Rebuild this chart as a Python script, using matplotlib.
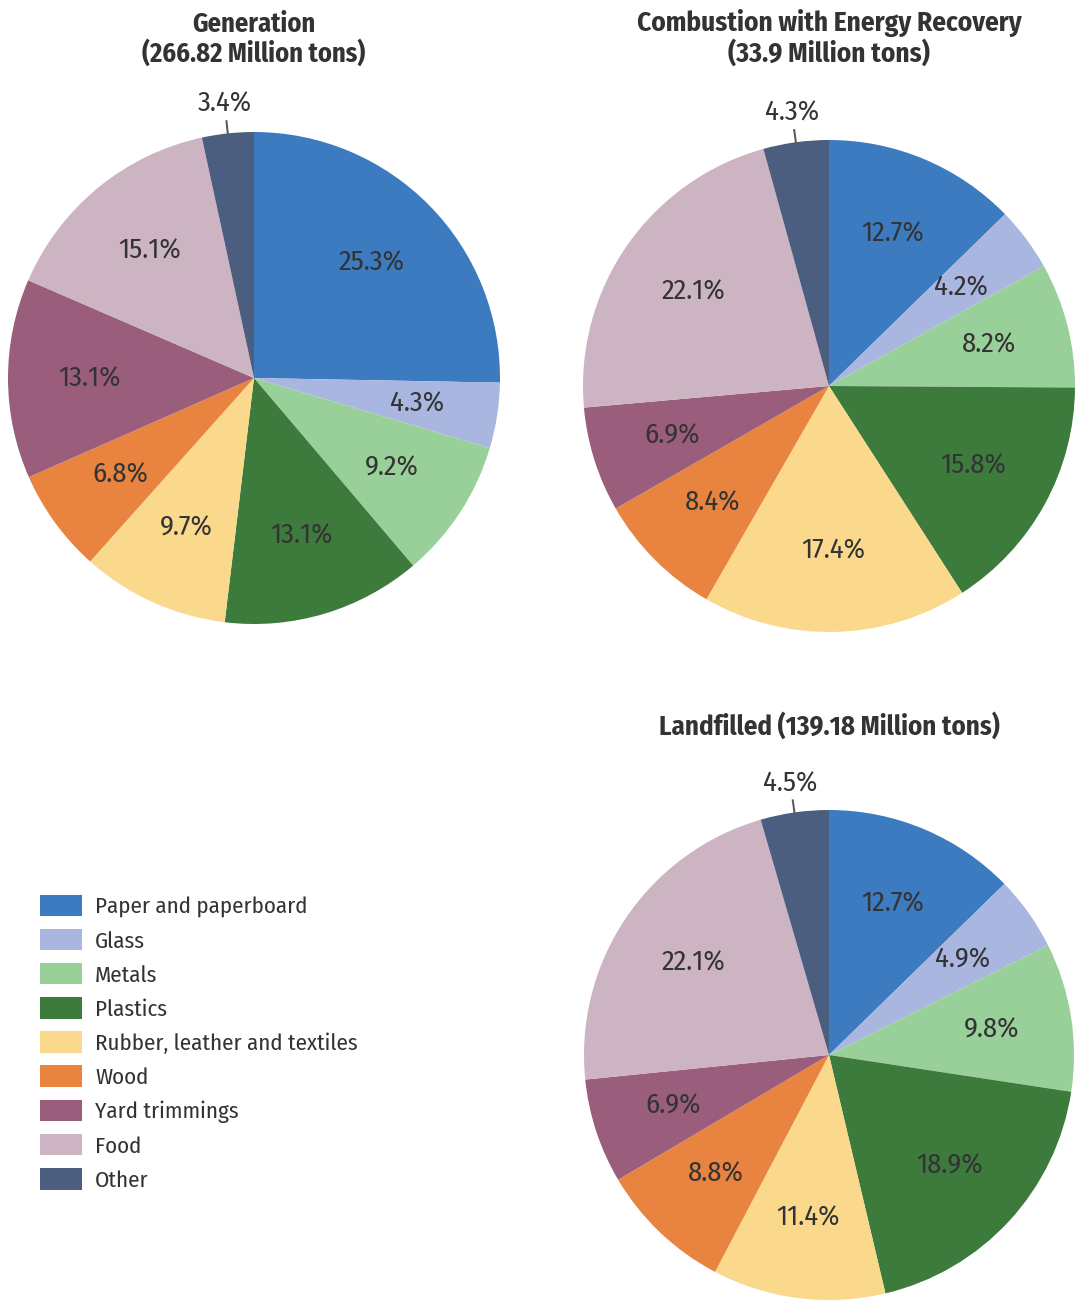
import numpy as np
import matplotlib
matplotlib.use("Agg")
import matplotlib.pyplot as plt

categories = ["Paper and paperboard", "Glass", "Metals", "Plastics",
              "Rubber, leather and textiles", "Wood", "Yard trimmings", "Food", "Other"]
colors = ["#3D7BC0", "#A9B7E0", "#99D09A", "#3C7B3C", "#FAD98D",
          "#E8843F", "#9A5E7C", "#CDB4C2", "#4B5E80"]

generation = [25.3, 4.3, 9.2, 13.1, 9.7, 6.8, 13.1, 15.1, 3.4]
combustion = [12.7, 4.2, 8.2, 15.8, 17.4, 8.4, 6.9, 22.1, 4.3]
landfilled = [12.7, 4.9, 9.8, 18.9, 11.4, 8.8, 6.9, 22.1, 4.5]

titles = ["Generation\n(266.82 Million tons)",
          "Combustion with Energy Recovery\n(33.9 Million tons)",
          "Landfilled (139.18 Million tons)"]

FAM = ["Fira Sans Condensed", "Asap Condensed", "DejaVu Sans"]
TXT = "#333333"
plt.rcParams['font.family'] = FAM

W, H = 1078, 1306
fig = plt.figure(figsize=(W / 100, H / 100), dpi=100)


def make_ax(cx, cy, r):
    return fig.add_axes([(cx - r) / W, 1 - (cy + r) / H, 2 * r / W, 2 * r / H])


def draw_pie(ax, values, title, title_gap, title_size):
    wedges, _ = ax.pie(values, colors=colors, startangle=90, counterclock=False,
                       wedgeprops=dict(linewidth=0))
    ax.set_xlim(-1, 1)
    ax.set_ylim(-1, 1)
    ax.set_aspect('equal')
    ax.axis('off')
    n = len(values)
    for i, (w, v) in enumerate(zip(wedges, values)):
        ang = np.deg2rad((w.theta1 + w.theta2) / 2)
        if i == n - 1:
            ax.plot([np.cos(ang) * 1.0, np.cos(ang) * 1.05],
                    [np.sin(ang) * 1.0, np.sin(ang) * 1.05],
                    color="#555555", lw=1.4, clip_on=False)
            d = 1.12
        else:
            d = 0.67
        ax.text(np.cos(ang) * d, np.sin(ang) * d, f"{v}%", ha='center', va='center',
                fontsize=20.5, color=TXT)
    ax.text(0, 1 + title_gap, title, ha='center', va='bottom', fontsize=title_size,
            fontweight='bold', color=TXT, linespacing=1.1, transform=ax.transData)
    return wedges


ax1 = make_ax(254, 378, 246)
wedges = draw_pie(ax1, generation, titles[0], 0.262, 19)
ax2 = make_ax(829, 386, 246)
draw_pie(ax2, combustion, titles[1], 0.297, 19.6)
ax3 = make_ax(829, 1055, 245)
draw_pie(ax3, landfilled, titles[2], 0.286, 19.3)

fig.legend(wedges, categories, loc='upper left', bbox_to_anchor=(40 / W, 1 - 895 / H),
           frameon=False, fontsize=16.5, handlelength=1.83, handleheight=1.05,
           handletextpad=0.57, labelspacing=0.49, borderpad=0, borderaxespad=0,
           labelcolor=TXT)

fig.savefig("out.png", dpi=100, facecolor='white')
